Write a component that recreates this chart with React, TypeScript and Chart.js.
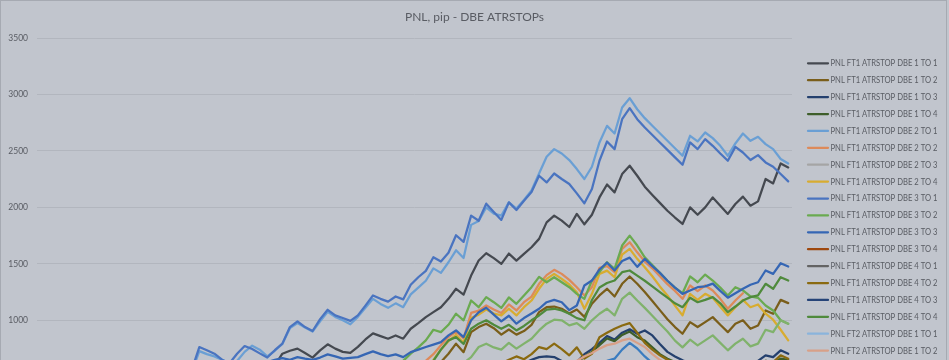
import React, { useEffect, useRef } from "react";
import { Chart, registerables } from "chart.js";

Chart.register(...registerables);

// ---------- data ----------
const lead = (n: number): (number | null)[] => new Array(n).fill(null);

const periods: string[] = Array.from({ length: 100 }, (_, i) => String(i + 1));

const yTickStep = 500;
const yMin = 0;
const yMax = 3500;

// FT1 2 TO 1 (top light blue)
const ft1_2_1 = [
  ...lead(20),
  540, 727, 700, 680, 650, 620, 640, 720, 775, 740,
  680, 730, 790, 930, 975, 935, 900, 990, 1075, 1030,
  1000, 965, 1030, 1110, 1190, 1145, 1110, 1150, 1116, 1230,
  1290, 1350, 1460, 1420, 1514, 1620, 1552, 1845, 1880, 2000,
  1945, 1927, 2044, 1990, 2065, 2150, 2300, 2448, 2516, 2477,
  2419, 2339, 2251, 2360, 2575, 2722, 2654, 2884, 2967, 2869,
  2790, 2723, 2657, 2590, 2524, 2457, 2634, 2584, 2663, 2613,
  2545, 2457, 2566, 2654, 2589, 2625, 2560, 2516, 2428, 2389,
];

// FT1 3 TO 1 (blue)
const ft1_3_1 = [
  ...lead(20),
  560, 763, 735, 704, 651, 620, 704, 772, 745, 707,
  670, 735, 793, 940, 990, 940, 905, 1010, 1093, 1043,
  1020, 995, 1043, 1130, 1220, 1190, 1165, 1211, 1185, 1315,
  1381, 1438, 1558, 1520, 1598, 1753, 1694, 1927, 1882, 2033,
  1960, 1889, 2044, 1977, 2059, 2136, 2280, 2221, 2300, 2251,
  2207, 2124, 2036, 2163, 2413, 2584, 2516, 2781, 2878, 2781,
  2707, 2641, 2575, 2509, 2443, 2377, 2575, 2516, 2604, 2545,
  2477, 2413, 2536, 2486, 2419, 2463, 2398, 2360, 2295, 2230,
];

// FT1 1 TO 1 (dark grey)
const ft1_1_1 = [
  ...lead(30),
  580, 600, 704, 730, 749, 710, 669, 734, 787, 749,
  720, 712, 765, 830, 884, 860, 837, 866, 837, 925,
  975, 1028, 1072, 1116, 1190, 1279, 1228, 1396, 1529, 1594,
  1550, 1500, 1591, 1529, 1588, 1647, 1721, 1867, 1927, 1883,
  1826, 1942, 1850, 1935, 2088, 2203, 2133, 2295, 2369, 2280,
  2183, 2110, 2040, 1970, 1910, 1853, 2000, 1935, 2000, 2088,
  2015, 1942, 2030, 2095, 2015, 2053, 2251, 2212, 2389, 2354,
];

// FT1 3 TO 2 (green, top of cluster)
const ft1_3_2 = [
  ...lead(48),
  640, 704,
  760, 822, 916, 895, 960, 1058, 1000, 1175, 1116, 1205,
  1160, 1110, 1202, 1146, 1220, 1293, 1385, 1337, 1381, 1337,
  1293, 1234, 1190, 1352, 1426, 1514, 1455, 1662, 1750, 1662,
  1558, 1490, 1420, 1350, 1290, 1240, 1388, 1337, 1405, 1352,
  1290, 1220, 1293, 1264, 1211, 1199, 1131, 1087, 1000, 970,
];

// FT1 2 TO 2 (orange)
const ft1_2_2 = [
  ...lead(51),
  640, 700, 778, 851, 900, 840, 1065, 1085, 1131,
  1095, 1065, 1140, 1087, 1160, 1210, 1323, 1400, 1447, 1411,
  1358, 1293, 1220, 1293, 1464, 1480, 1426, 1632, 1691, 1602,
  1520, 1460, 1390, 1320, 1260, 1190, 1308, 1258, 1308, 1264,
  1190, 1102, 1175, 1240,
];

// FT1 2 TO 4 (gold)
const ft1_2_4 = [
  ...lead(52),
  650, 740, 815, 870, 800, 1020, 1050, 1095,
  1060, 1043, 1102, 1043, 1116, 1175, 1279, 1367, 1411, 1367,
  1317, 1249, 1102, 1234, 1411, 1440, 1381, 1582, 1632, 1544,
  1470, 1390, 1300, 1220, 1130, 1043, 1234, 1181, 1234, 1199,
  1120, 1043, 1116, 1181, 1116, 1140, 1058, 1005, 916, 822,
];

// FT1 3 TO 3 (medium blue)
const ft1_3_3 = [
  ...lead(30),
  630, 650, 665, 650, 674, 660, 650, 670, 698, 680,
  660, 668, 674, 700, 725, 700, 683, 698, 674, 718,
  740, 763, 785, 807, 866, 910, 851, 1000, 1072, 1111,
  1050, 990, 1040, 970, 1020, 1060, 1102, 1160, 1181, 1160,
  1090, 1131, 1308, 1352, 1450, 1510, 1441, 1525, 1555, 1473,
  1544, 1480, 1420, 1350, 1290, 1234, 1264, 1293, 1300, 1325,
  1260, 1200, 1240, 1279, 1315, 1337, 1441, 1411, 1505, 1476,
];

// FT1 4 TO 4 (dark green)
const ft1_4_4 = [
  ...lead(52),
  640, 740, 822, 851, 790, 925, 970, 1000,
  960, 925, 960, 910, 950, 1000, 1043, 1095, 1102, 1087,
  1058, 1019, 1000, 1180, 1290, 1330, 1352, 1426, 1441, 1396,
  1350, 1300, 1250, 1200, 1150, 1116, 1199, 1160, 1181, 1205,
  1150, 1072, 1122, 1175, 1205, 1220, 1323, 1279, 1382, 1352,
];

// FT1 1 TO 2 (dark olive)
const ft1_1_2 = [
  ...lead(53),
  630, 704, 793, 718, 895, 940, 970,
  930, 873, 918, 873, 905, 960, 1072, 1116, 1122, 1102,
  1060, 1095, 1030, 1146, 1220, 1279, 1211, 1323, 1388, 1323,
  1250, 1170, 1090, 1010, 940, 881, 984, 940, 984, 1028,
  960, 895, 970, 1000, 925, 954, 1087, 1058, 1181, 1152,
];

// FT2 2 TO 2 (light green)
const ft2_2_2 = [
  ...lead(56),
  620, 674, 763, 793,
  760, 740, 800, 749, 793, 837, 910, 970, 1005, 1000,
  955, 975, 925, 1000, 1058, 1102, 1043, 1190, 1245, 1175,
  1110, 1040, 970, 900, 820, 760, 828, 778, 822, 866,
  800, 734, 793, 837, 769, 793, 916, 895, 1000, 970,
];

// FT2 1 TO 2 (salmon)
const ft2_1_2 = [
  ...lead(70),
  620, 640, 680, 710, 749, 780, 793, 822, 837, 800,
  763, 700, 650, 610, 590,
];

// FT1 4 TO 2 (olive)
const ft1_4_2 = [
  ...lead(60),
  590, 620, 650, 680, 655, 700, 763, 745, 793, 745,
  690, 760, 660, 704, 850, 890, 925, 954, 975, 890,
  800, 740, 690, 650, 620, 590, 610, 600, 610, 630,
  600, 580, 600, 620, 600, 610, 640, 630, 690, 660,
];

// FT1 1 TO 3 (navy)
const ft1_1_3 = [
  ...lead(60),
  560, 580, 590, 600, 620, 650, 674, 680, 674, 640,
  610, 630, 700, 745, 800, 860, 830, 890, 920, 880,
  910, 866, 790, 720, 680, 645, 620, 610, 600, 620,
  600, 580, 600, 610, 600, 640, 690, 674, 734, 704,
];

// FT1 1 TO 4 (deep green)
const ft1_1_4 = [
  ...lead(70),
  580, 620, 680, 720, 780, 840, 815, 870, 900, 850,
  820, 760, 700, 660, 630, 600, 590, 580, 590, 600,
  580, 570, 580, 590, 580, 600, 640, 630, 660, 650,
];

// FT2 2 TO 3 (bright blue, low)
const ft2_2_3 = [
  ...lead(70),
  540, 550, 560, 580, 600, 640, 660, 740, 800, 750,
  680, 620, 590, 570, 560,
];

const empty: (number | null)[] = [];

const seriesLabels: string[] = [
  "PNL FT1 ATRSTOP DBE 1 TO 1",
  "PNL FT1 ATRSTOP DBE 1 TO 2",
  "PNL FT1 ATRSTOP DBE 1 TO 3",
  "PNL FT1 ATRSTOP DBE 1 TO 4",
  "PNL FT1 ATRSTOP DBE 2 TO 1",
  "PNL FT1 ATRSTOP DBE 2 TO 2",
  "PNL FT1 ATRSTOP DBE 2 TO 3",
  "PNL FT1 ATRSTOP DBE 2 TO 4",
  "PNL FT1 ATRSTOP DBE 3 TO 1",
  "PNL FT1 ATRSTOP DBE 3 TO 2",
  "PNL FT1 ATRSTOP DBE 3 TO 3",
  "PNL FT1 ATRSTOP DBE 3 TO 4",
  "PNL FT1 ATRSTOP DBE 4 TO 1",
  "PNL FT1 ATRSTOP DBE 4 TO 2",
  "PNL FT1 ATRSTOP DBE 4 TO 3",
  "PNL FT1 ATRSTOP DBE 4 TO 4",
  "PNL FT2 ATRSTOP DBE 1 TO 1",
  "PNL FT2 ATRSTOP DBE 1 TO 2",
  "PNL FT2 ATRSTOP DBE 1 TO 3",
  "PNL FT2 ATRSTOP DBE 1 TO 4",
  "PNL FT2 ATRSTOP DBE 2 TO 1",
  "PNL FT2 ATRSTOP DBE 2 TO 2",
  "PNL FT2 ATRSTOP DBE 2 TO 3",
];

const seriesValues: (number | null)[][] = [
  ft1_1_1, ft1_1_2, ft1_1_3, ft1_1_4,
  ft1_2_1, ft1_2_2, empty, ft1_2_4,
  ft1_3_1, ft1_3_2, ft1_3_3, empty,
  empty, ft1_4_2, empty, ft1_4_4,
  empty, ft2_1_2, empty, empty,
  empty, ft2_2_2, ft2_2_3,
];

const seriesColors: string[] = [
  "#454950", "#7A5E1A", "#24406E", "#3E5E2A",
  "#6A9FD4", "#DD8A5A", "#A5A5A5", "#D8AC30",
  "#4A74C0", "#6AAA50", "#3566B4", "#9E480E",
  "#636363", "#8A6A10", "#264478", "#4F8A3C",
  "#8AB4DC", "#D8A088", "#B7B7B7", "#FFCD33",
  "#698ED0", "#80B26C", "#3A7CC0",
];

const chartTitle = "PNL, pip - DBE ATRSTOPs";

// ---------- component ----------
export default function App() {
  const canvasRef = useRef<HTMLCanvasElement | null>(null);

  useEffect(() => {
    document.body.style.margin = "0";
    const canvas = canvasRef.current;
    if (!canvas) return;

    const bgPlugin = {
      id: "bg",
      beforeDraw(chart: any) {
        const { ctx, width, height } = chart;
        ctx.save();
        ctx.fillStyle = "#C1C5CD";
        ctx.fillRect(0, 0, width, height);
        ctx.restore();
      },
      afterDraw(chart: any) {
        const { ctx, height } = chart;
        ctx.save();
        ctx.strokeStyle = "#A6AAB2";
        ctx.lineWidth = 1;
        ctx.strokeRect(0.5, 0.5, 946, height + 10);
        ctx.restore();
      },
    };

    const legendPlugin = {
      id: "sideLegend",
      afterDraw(chart: any) {
        const { ctx } = chart;
        ctx.save();
        ctx.font = "9px Lato";
        const refW = ctx.measureText(seriesLabels[0]).width || 107;
        const sx = 107 / refW;
        chart.data.datasets.forEach((ds: any, i: number) => {
          const y = 63.3 + 16.9 * i;
          ctx.strokeStyle = ds.borderColor;
          ctx.lineWidth = 2.25;
          ctx.lineCap = "round";
          ctx.beginPath();
          ctx.moveTo(808, y);
          ctx.lineTo(828, y);
          ctx.stroke();
          ctx.save();
          ctx.translate(830.5, y);
          ctx.scale(sx, 1);
          ctx.fillStyle = "#595C63";
          ctx.font = "9px Lato";
          ctx.textBaseline = "middle";
          ctx.textAlign = "left";
          ctx.fillText(ds.label, 0, 0);
          ctx.restore();
        });
        ctx.restore();
      },
    };

    const chart = new Chart(canvas, {
      type: "line",
      data: {
        labels: periods,
        datasets: seriesLabels.map((label, i) => ({
          label,
          data: seriesValues[i],
          borderColor: seriesColors[i],
          backgroundColor: seriesColors[i],
          borderWidth: 2.25,
          pointRadius: 0,
          pointHoverRadius: 0,
          tension: 0,
          fill: false,
          borderJoinStyle: "round" as const,
          borderCapStyle: "round" as const,
          order: -i,
        })),
      },
      options: {
        animation: false,
        responsive: false,
        devicePixelRatio: 1,
        events: [],
        layout: { padding: { left: 0, right: 0, top: 0, bottom: 26.8 } },
        plugins: {
          legend: { display: false },
          tooltip: { enabled: false },
          title: {
            display: true,
            text: chartTitle,
            color: "#595C63",
            font: { family: "Lato", size: 12, weight: "normal" },
            padding: { top: 9.5, bottom: 14.1 },
          },
        },
        scales: {
          x: { type: "category", offset: true, display: false },
          y: {
            min: yMin,
            max: yMax,
            ticks: {
              stepSize: yTickStep,
              color: "#595C63",
              font: { family: "Lato", size: 8.5 },
              padding: 9,
              callback: (v: any) => String(v),
            },
            grid: { color: "#B2B6BE", drawTicks: false, lineWidth: 1 },
            border: { display: false },
            afterFit: (scale: any) => {
              scale.width = 37;
            },
          },
          legendSpace: {
            type: "linear",
            position: "right",
            display: true,
            grid: { display: false, drawTicks: false },
            ticks: { display: false },
            border: { display: false },
            afterFit: (scale: any) => {
              scale.width = 157;
            },
          },
        },
      },
      plugins: [bgPlugin, legendPlugin],
    });

    return () => chart.destroy();
  }, []);

  return (
    <div>
      <canvas ref={canvasRef} width={949} height={460} style={{ display: "block", width: 949, height: 460 }} />
    </div>
  );
}
